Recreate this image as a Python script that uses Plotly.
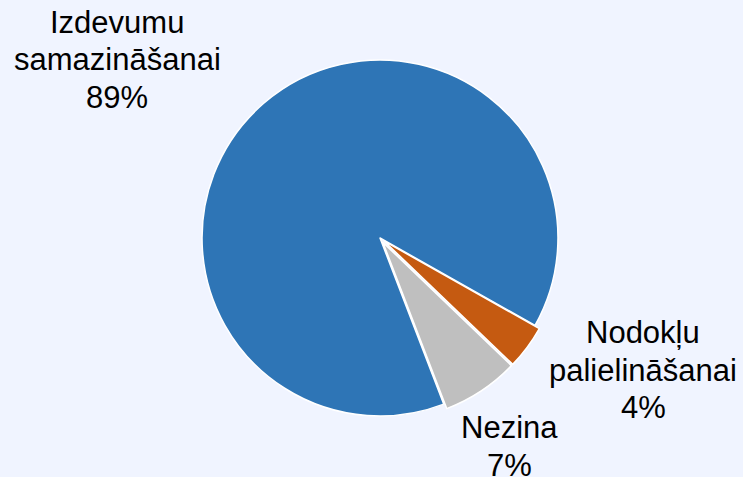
import plotly.graph_objects as go

labels = ["Izdevumu<br>samazināšanai", "Nodokļu<br>palielināšanai", "Nezina"]
values = [89, 4, 7]
colors = ["#2E75B6", "#C55A11", "#BFBFBF"]
pulls = [0, 0.03, 0.03]
# label block centre positions (pixels from top-left)
label_px = [117, 643, 509]
label_py = [60, 370, 446.5]
LINE_GAP = 37.5

W, H = 743, 477
bg = "#F0F4FF"

fig = go.Figure()
fig.add_trace(go.Pie(
    labels=labels,
    values=values,
    marker=dict(colors=colors, line=dict(color="white", width=1.5)),
    pull=pulls,
    sort=False,
    direction="clockwise",
    rotation=159,
    textinfo="none",
    hoverinfo="label+percent",
    showlegend=False,
    domain=dict(x=[196.7 / W, 563.3 / W], y=[1 - 421.3 / H, 1 - 54.7 / H]),
))

total = sum(values)
for lab, v, px, py in zip(labels, values, label_px, label_py):
    lines = lab.split("<br>") + [f"{round(100 * v / total)}%"]
    n = len(lines)
    for i, ln in enumerate(lines):
        yy = py + (i - (n - 1) / 2) * LINE_GAP
        fig.add_annotation(
            text=ln,
            x=px / W, y=1 - yy / H, xref="paper", yref="paper",
            xanchor="center", yanchor="middle",
            showarrow=False, align="center",
            font=dict(family="Liberation Sans, Arial, sans-serif", size=31, color="#000000"),
        )

fig.update_layout(
    width=W, height=H,
    margin=dict(l=0, r=0, t=0, b=0),
    paper_bgcolor=bg, plot_bgcolor=bg,
)
fig.write_html(
    "out.html",
    config={"displayModeBar": False},
    post_script="document.body.style.margin='0';document.body.style.background='#F0F4FF';",
)
